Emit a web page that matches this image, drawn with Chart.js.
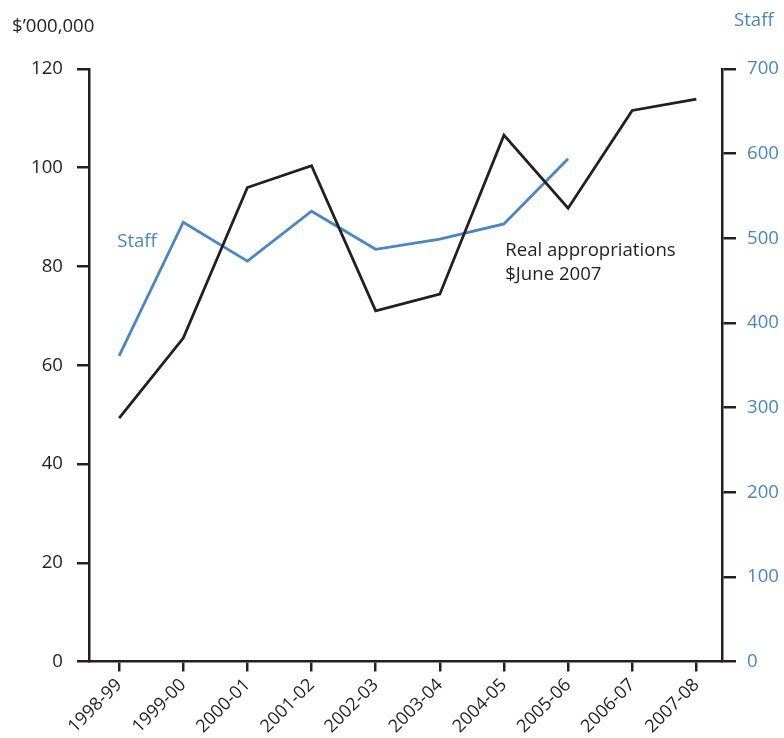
<!DOCTYPE html>
<html>
<head>
<meta charset="utf-8">
<script src="https://cdn.jsdelivr.net/npm/chart.js@4.4.0/dist/chart.umd.min.js"></script>
<style>
  html, body { margin: 0; padding: 0; background: #fff; }
  #wrap { width: 784px; height: 738px; }
</style>
</head>
<body>
<div id="wrap"><canvas id="chart" width="784" height="738"></canvas></div>
<script>
// Data
const years = ['1998-99', '1999-00', '2000-01', '2001-02', '2002-03', '2003-04', '2004-05', '2005-06', '2006-07', '2007-08'];
const appropriations = [49.3, 65.5, 96.0, 100.4, 71.0, 74.4, 106.6, 91.8, 111.6, 113.9]; // $'000,000 real, June 2007
const staff = [361, 519, 473, 532, 487, 499, 517, 594, null, null];
const leftTicks = [0, 20, 40, 60, 80, 100, 120];
const rightTicks = [0, 100, 200, 300, 400, 500, 600, 700];

const BLACK = '#231f20';
const BLUE = '#4a86c6';
const FONT = '"Open Sans", sans-serif';

// Titles and in-plot labels
const textPlugin = {
  id: 'texts',
  afterDraw(chart) {
    const ctx = chart.ctx;
    const x = chart.scales.x;
    const yl = chart.scales.yL;
    ctx.save();
    ctx.font = '18.6px ' + FONT;
    ctx.textBaseline = 'middle';
    ctx.textAlign = 'left';
    ctx.fillStyle = BLACK;
    ctx.fillText('$\u2019000,000', 12, 27);
    ctx.fillStyle = BLUE;
    ctx.fillText('Staff', 734, 21);
    // annotations
    ctx.fillText('Staff', x.getPixelForValue(-0.03), yl.getPixelForValue(85));
    ctx.fillStyle = BLACK;
    ctx.fillText('Real appropriations', x.getPixelForValue(6.02), yl.getPixelForValue(83.3));
    ctx.fillText('$June 2007', x.getPixelForValue(6.02), yl.getPixelForValue(78.3));
    ctx.restore();
  }
};

new Chart(document.getElementById('chart').getContext('2d'), {
  type: 'line',
  data: {
    labels: years,
    datasets: [
      {
        label: 'Real appropriations',
        data: appropriations.map((v, i) => ({ x: i, y: v })),
        yAxisID: 'yL',
        borderColor: BLACK,
        borderWidth: 2.8,
        pointRadius: 0,
        tension: 0
      },
      {
        label: 'Staff',
        data: staff.map((v, i) => ({ x: i, y: v })),
        yAxisID: 'yR',
        borderColor: BLUE,
        borderWidth: 2.8,
        pointRadius: 0,
        tension: 0,
        spanGaps: false
      }
    ]
  },
  options: {
    responsive: false,
    animation: false,
    layout: { padding: { top: 69, left: 0, right: 0, bottom: 0 } },
    plugins: {
      legend: { display: false },
      tooltip: { enabled: false }
    },
    scales: {
      x: {
        type: 'linear',
        min: -0.47,
        max: 9.4,
        afterBuildTicks: (scale) => { scale.ticks = years.map((_, i) => ({ value: i })); },
        afterFit: (scale) => { scale.height = 76.5; },
        border: { display: true, color: BLACK, width: 2.5 },
        grid: { display: true, drawOnChartArea: false, drawTicks: true, tickLength: 10, color: BLACK, lineWidth: 2.5 },
        ticks: {
          callback: (v) => years[v],
          minRotation: 45,
          maxRotation: 45,
          autoSkip: false,
          padding: 3,
          color: BLACK,
          font: { family: FONT, size: 18 }
        }
      },
      yL: {
        position: 'left',
        min: 0,
        max: 120,
        afterBuildTicks: (scale) => { scale.ticks = leftTicks.map(v => ({ value: v })); },
        afterFit: (scale) => { scale.width = 89; },
        border: { display: true, color: BLACK, width: 2.5 },
        grid: { display: true, drawOnChartArea: false, drawTicks: true, tickLength: 12, color: BLACK, lineWidth: 2.5 },
        ticks: { padding: 14, color: BLACK, font: { family: FONT, size: 18.6 } }
      },
      yR: {
        position: 'right',
        min: 0,
        max: 700,
        afterBuildTicks: (scale) => { scale.ticks = rightTicks.map(v => ({ value: v })); },
        afterFit: (scale) => { scale.width = 62; },
        border: { display: true, color: BLACK, width: 2.5 },
        grid: { display: true, drawOnChartArea: false, drawTicks: true, tickLength: 14, color: BLACK, lineWidth: 2.5 },
        ticks: { padding: 11, color: BLUE, font: { family: FONT, size: 18.6 } }
      }
    }
  },
  plugins: [textPlugin]
});
</script>
</body>
</html>
